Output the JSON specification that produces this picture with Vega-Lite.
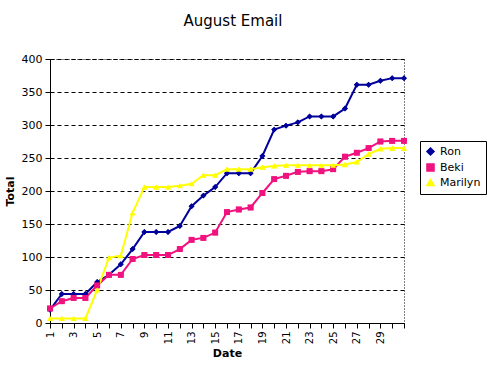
{
  "$schema": "https://vega.github.io/schema/vega-lite/v6.json",
  "width": 354,
  "height": 264,
  "autosize": "none",
  "padding": {"left": 50, "top": 59, "right": 96, "bottom": 52},
  "background": "white",
  "title": {"text": "August Email", "font": "DejaVu Sans", "fontSize": 15, "fontWeight": "normal", "color": "black", "offset": 24, "anchor": "middle", "dx": 6},
  "config": {
    "view": {"stroke": "black", "strokeDash": [1, 2], "strokeWidth": 1},
    "axis": {"labelFont": "DejaVu Sans", "titleFont": "DejaVu Sans", "labelColor": "black", "titleColor": "black", "domainColor": "black", "tickColor": "black", "labelFontSize": 11, "titleFontSize": 11, "titleFontWeight": "bold"}
  },
  "data": {"values": [
    {"day":1,"s":"Ron","v":20},{"day":2,"s":"Ron","v":44},{"day":3,"s":"Ron","v":44},{"day":4,"s":"Ron","v":44},{"day":5,"s":"Ron","v":62},{"day":6,"s":"Ron","v":73},{"day":7,"s":"Ron","v":89},{"day":8,"s":"Ron","v":112},{"day":9,"s":"Ron","v":138},{"day":10,"s":"Ron","v":138},{"day":11,"s":"Ron","v":138},{"day":12,"s":"Ron","v":147},{"day":13,"s":"Ron","v":177},{"day":14,"s":"Ron","v":193},{"day":15,"s":"Ron","v":206},{"day":16,"s":"Ron","v":227},{"day":17,"s":"Ron","v":227},{"day":18,"s":"Ron","v":227},{"day":19,"s":"Ron","v":253},{"day":20,"s":"Ron","v":293},{"day":21,"s":"Ron","v":299},{"day":22,"s":"Ron","v":304},{"day":23,"s":"Ron","v":313},{"day":24,"s":"Ron","v":313},{"day":25,"s":"Ron","v":313},{"day":26,"s":"Ron","v":325},{"day":27,"s":"Ron","v":361},{"day":28,"s":"Ron","v":361},{"day":29,"s":"Ron","v":367},{"day":30,"s":"Ron","v":371},{"day":31,"s":"Ron","v":371},
    {"day":1,"s":"Beki","v":22},{"day":2,"s":"Beki","v":33},{"day":3,"s":"Beki","v":38},{"day":4,"s":"Beki","v":38},{"day":5,"s":"Beki","v":57},{"day":6,"s":"Beki","v":73},{"day":7,"s":"Beki","v":73},{"day":8,"s":"Beki","v":97},{"day":9,"s":"Beki","v":103},{"day":10,"s":"Beki","v":103},{"day":11,"s":"Beki","v":103},{"day":12,"s":"Beki","v":112},{"day":13,"s":"Beki","v":126},{"day":14,"s":"Beki","v":129},{"day":15,"s":"Beki","v":137},{"day":16,"s":"Beki","v":168},{"day":17,"s":"Beki","v":172},{"day":18,"s":"Beki","v":175},{"day":19,"s":"Beki","v":197},{"day":20,"s":"Beki","v":218},{"day":21,"s":"Beki","v":223},{"day":22,"s":"Beki","v":229},{"day":23,"s":"Beki","v":230},{"day":24,"s":"Beki","v":230},{"day":25,"s":"Beki","v":233},{"day":26,"s":"Beki","v":252},{"day":27,"s":"Beki","v":258},{"day":28,"s":"Beki","v":265},{"day":29,"s":"Beki","v":275},{"day":30,"s":"Beki","v":276},{"day":31,"s":"Beki","v":276},
    {"day":1,"s":"Marilyn","v":7},{"day":2,"s":"Marilyn","v":7},{"day":3,"s":"Marilyn","v":7},{"day":4,"s":"Marilyn","v":7},{"day":5,"s":"Marilyn","v":50},{"day":6,"s":"Marilyn","v":99},{"day":7,"s":"Marilyn","v":102},{"day":8,"s":"Marilyn","v":167},{"day":9,"s":"Marilyn","v":206},{"day":10,"s":"Marilyn","v":206},{"day":11,"s":"Marilyn","v":206},{"day":12,"s":"Marilyn","v":208},{"day":13,"s":"Marilyn","v":211},{"day":14,"s":"Marilyn","v":224},{"day":15,"s":"Marilyn","v":224},{"day":16,"s":"Marilyn","v":233},{"day":17,"s":"Marilyn","v":233},{"day":18,"s":"Marilyn","v":233},{"day":19,"s":"Marilyn","v":236},{"day":20,"s":"Marilyn","v":238},{"day":21,"s":"Marilyn","v":239},{"day":22,"s":"Marilyn","v":239},{"day":23,"s":"Marilyn","v":239},{"day":24,"s":"Marilyn","v":239},{"day":25,"s":"Marilyn","v":239},{"day":26,"s":"Marilyn","v":240},{"day":27,"s":"Marilyn","v":244},{"day":28,"s":"Marilyn","v":256},{"day":29,"s":"Marilyn","v":264},{"day":30,"s":"Marilyn","v":265},{"day":31,"s":"Marilyn","v":265}
  ]},
  "encoding": {
    "x": {"field": "day", "type": "quantitative", "title": "Date",
      "scale": {"domain": [1, 31], "nice": false, "zero": false},
      "axis": {"values": [1,2,3,4,5,6,7,8,9,10,11,12,13,14,15,16,17,18,19,20,21,22,23,24,25,26,27,28,29,30,31],
        "labelExpr": "(datum.value % 2 == 1 && datum.value < 31) ? datum.label : ''",
        "labelAngle": -90, "labelAlign": "right", "labelBaseline": "middle", "labelPadding": 3,
        "tickSize": 5, "grid": false, "titlePadding": 4, "labelFontSize": 10, "labelFlush": false}},
    "y": {"field": "v", "type": "quantitative", "title": "Total",
      "scale": {"domain": [0, 400], "nice": false},
      "axis": {"values": [0,50,100,150,200,250,300,350,400], "tickSize": 5, "labelPadding": 3, "titlePadding": 6,
        "grid": true, "gridColor": "black", "gridDash": [4, 3], "gridOpacity": 1}},
    "color": {"field": "s", "type": "nominal", "title": null,
      "scale": {"domain": ["Ron", "Beki", "Marilyn"], "range": ["#00009a", "#f0127e", "#ffff00"]},
      "legend": {"orient": "none", "legendX": 370, "legendY": 82, "strokeColor": "black", "fillColor": "white", "padding": 5,
        "labelFont": "DejaVu Sans", "labelFontSize": 11, "labelColor": "black", "symbolSize": 50, "rowPadding": 1}},
    "shape": {"field": "s", "type": "nominal",
      "scale": {"domain": ["Ron", "Beki", "Marilyn"], "range": ["diamond", "square", "triangle-up"]}, "legend": null}
  },
  "layer": [
    {"mark": {"type": "line", "strokeWidth": 2}},
    {"mark": {"type": "point", "filled": true, "size": 35, "opacity": 1}}
  ]
}
